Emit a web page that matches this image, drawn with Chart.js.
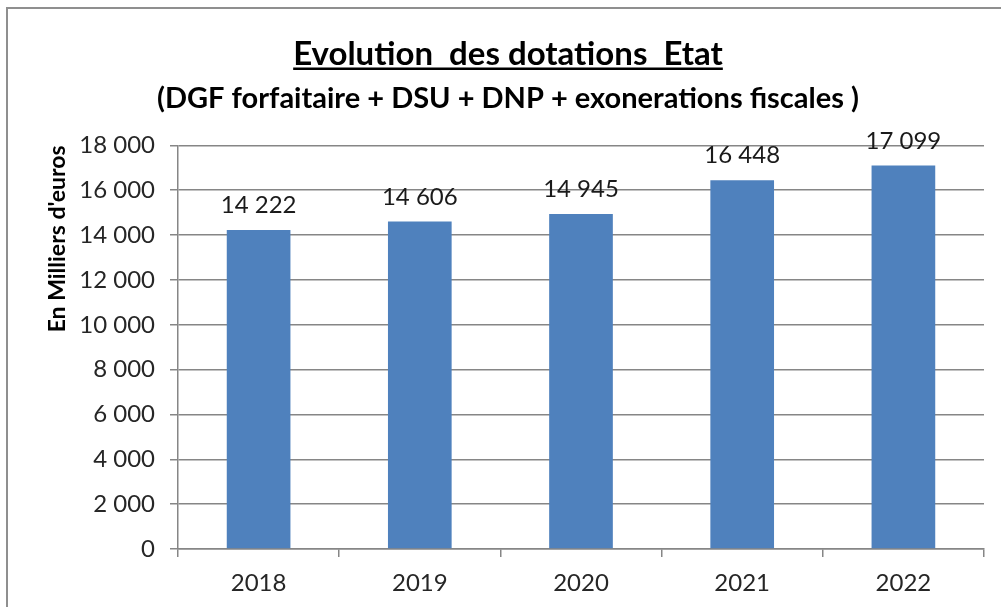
<!DOCTYPE html>
<html lang="fr">
<head>
  <meta charset="UTF-8">
  <title>Evolution des dotations Etat</title>
  <style>
    html, body {
      margin: 0;
      padding: 0;
      background: #fff;
      overflow: hidden;
    }
    .wrap {
      position: relative;
      width: 1001px;
      height: 607px;
    }
    /* cadre gris du graphique (haut et gauche seulement visibles) */
    .frame {
      position: absolute;
      left: 6px;
      top: 7px;
      width: 1200px;
      height: 800px;
      border-left: 2px solid #8f8f8f;
      border-top: 2px solid #8f8f8f;
      pointer-events: none;
    }
    canvas {
      position: absolute;
      left: 0;
      top: 0;
    }
  </style>
</head>
<body>
<div class="wrap">
  <canvas id="dotationsChart" width="1001" height="607"></canvas>
  <div class="frame"></div>
</div>

<script src="https://cdn.jsdelivr.net/npm/chart.js"></script>
<script>
  // Données
  const annees = ['2018', '2019', '2020', '2021', '2022'];
  const dotations = [14222, 14606, 14945, 16448, 17099];
  const yTicks = [0, 2000, 4000, 6000, 8000, 10000, 12000, 14000, 16000, 18000];

  const FONT = 'Lato, "Open Sans", sans-serif';

  // 14222 -> "14 222"
  function fmt(v) {
    return String(v).replace(/\B(?=(\d{3})+(?!\d))/g, ' ');
  }

  // Étiquettes de valeurs au-dessus des barres
  const valueLabels = {
    id: 'valueLabels',
    afterDatasetsDraw(chart) {
      const ctx = chart.ctx;
      const meta = chart.getDatasetMeta(0);
      ctx.save();
      ctx.font = '24px ' + FONT;
      ctx.fillStyle = '#1a1a1a';
      ctx.textAlign = 'center';
      ctx.textBaseline = 'alphabetic';
      meta.data.forEach((bar, i) => {
        ctx.fillText(fmt(chart.data.datasets[0].data[i]), bar.x, bar.y - 17);
      });
      ctx.restore();
    }
  };

  // Souligner le titre principal
  const underlineTitle = {
    id: 'underlineTitle',
    afterDraw(chart) {
      const tb = chart.titleBlock;
      if (!tb) return;
      const ctx = chart.ctx;
      const opts = chart.options.plugins.title;
      ctx.save();
      ctx.font = 'bold ' + opts.font.size + 'px ' + FONT;
      const w = ctx.measureText(opts.text).width;
      const cx = (tb.left + tb.right) / 2;
      const y = tb.top + opts.padding.top + opts.font.size * 1.2 / 2 + 14;
      ctx.strokeStyle = '#000';
      ctx.lineWidth = 2.5;
      ctx.beginPath();
      ctx.moveTo(cx - w / 2, y);
      ctx.lineTo(cx + w / 2, y);
      ctx.stroke();
      ctx.restore();
    }
  };

  const ctx = document.getElementById('dotationsChart').getContext('2d');
  new Chart(ctx, {
    type: 'bar',
    data: {
      labels: annees,
      datasets: [{
        data: dotations,
        backgroundColor: '#4F81BD',
        borderWidth: 0,
        categoryPercentage: 1,
        barPercentage: 0.395
      }]
    },
    options: {
      responsive: false,
      animation: false,
      layout: {
        padding: { left: 32, right: 17, top: 0, bottom: 0 }
      },
      plugins: {
        legend: { display: false },
        tooltip: { enabled: false },
        title: {
          display: true,
          text: 'Evolution  des dotations  Etat',
          color: '#000',
          font: { family: FONT, size: 33, weight: 'bold' },
          padding: { top: 35, bottom: 0 }
        },
        subtitle: {
          display: true,
          text: '(DGF forfaitaire + DSU + DNP + exonerations fiscales )',
          color: '#000',
          font: { family: FONT, size: 29, weight: 'bold' },
          padding: { top: 7, bottom: 29 }
        }
      },
      scales: {
        x: {
          offset: true,
          grid: {
            offset: true,
            drawOnChartArea: false,
            drawTicks: true,
            tickLength: 8,
            color: '#868686',
            lineWidth: 1.5
          },
          border: { display: true, color: '#868686', width: 1.5 },
          ticks: {
            color: '#262626',
            font: { family: FONT, size: 24 },
            padding: 12
          },
          afterFit(scale) { scale.height = 58; }
        },
        y: {
          min: 0,
          max: 18000,
          afterBuildTicks(scale) {
            scale.ticks = yTicks.map(v => ({ value: v }));
          },
          grid: {
            color: '#868686',
            lineWidth: 1.5,
            drawTicks: true,
            tickLength: 8
          },
          border: { display: true, color: '#868686', width: 1.5 },
          ticks: {
            color: '#262626',
            font: { family: FONT, size: 24 },
            padding: 15,
            callback: v => fmt(v)
          },
          title: {
            display: true,
            text: "En Milliers d'euros",
            align: 'end',
            color: '#000',
            font: { family: FONT, size: 23, weight: 'bold' },
            padding: { top: 12, bottom: 0 }
          },
          afterFit(scale) { scale.width = 146; }
        }
      }
    },
    plugins: [valueLabels, underlineTitle]
  });
</script>
</body>
</html>
